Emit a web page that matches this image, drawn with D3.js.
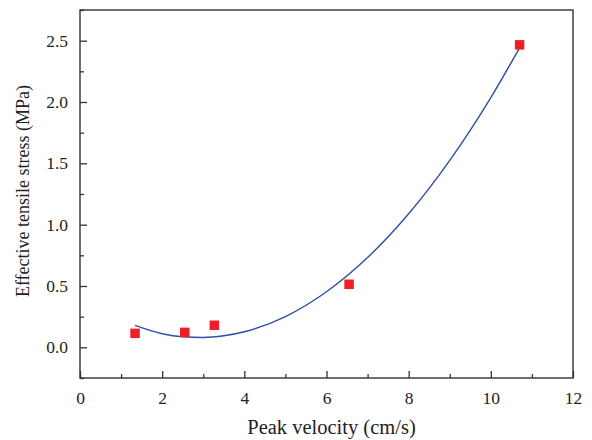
<!DOCTYPE html>
<html><head><meta charset="utf-8">
<script src="https://cdn.jsdelivr.net/npm/d3@7"></script>
<style>body{margin:0;background:#fff}svg{display:block}</style>
</head><body>
<svg id="c" width="592" height="440"></svg>
<script>
// measured data points
const velocity = [1.34, 2.55, 3.27, 6.55, 10.7];
const stress = [0.114, 0.122, 0.18, 0.514, 2.466];
// fitted curve
const fitX = [1.34, 2, 2.5, 3, 3.5, 4, 5, 6, 7, 8, 9, 10, 10.7];
const fitY = [0.179, 0.111, 0.086, 0.080, 0.094, 0.127, 0.251, 0.453, 0.732, 1.089, 1.524, 2.036, 2.441];
const xTicks = [0, 2, 4, 6, 8, 10, 12];
const xMinor = [1, 3, 5, 7, 9, 11];
const yTicks = [0.0, 0.5, 1.0, 1.5, 2.0, 2.5];
const yMinor = [-0.25, 0.25, 0.75, 1.25, 1.75, 2.25, 2.75];

const m = {l: 80, t: 10, r: 573, b: 378};
const svg = d3.select("#c");
const x = d3.scaleLinear().domain([0, 12]).range([m.l, m.r]);
const y = d3.scaleLinear().domain([-0.25, 2.75]).range([m.b, m.t]);
const font = "'Liberation Serif','Times New Roman',serif";
const axCol = "#333";

// frame
svg.append("rect").attr("x", m.l).attr("y", m.t).attr("width", m.r - m.l).attr("height", m.b - m.t)
  .attr("fill", "none").attr("stroke", axCol).attr("stroke-width", 1.4);

// x axis
const gx = svg.append("g").attr("transform", `translate(0,${m.b})`);
gx.call(d3.axisBottom(x).tickValues(xTicks).tickSize(-7).tickPadding(14).tickFormat(d3.format("d")));
gx.append("g").call(d3.axisBottom(x).tickValues(xMinor).tickSize(-4).tickFormat(""));
// y axis
const gy = svg.append("g").attr("transform", `translate(${m.l},0)`);
gy.call(d3.axisLeft(y).tickValues(yTicks).tickSize(-7).tickPadding(12).tickFormat(d3.format(".1f")));
gy.append("g").call(d3.axisLeft(y).tickValues(yMinor).tickSize(-4).tickFormat(""));
svg.selectAll(".domain").remove();
svg.selectAll(".tick line").attr("stroke", axCol).attr("stroke-width", 1.3);
svg.selectAll(".tick text").attr("font-family", font).attr("font-size", 17.5).attr("fill", "#222");

// axis titles
svg.append("text").attr("x", 331.5).attr("y", 434).attr("text-anchor", "middle")
  .attr("font-family", font).attr("font-size", 20.5).attr("fill", "#222").text("Peak velocity (cm/s)");
svg.append("text").attr("transform", "translate(29,191) rotate(-90)").attr("text-anchor", "middle")
  .attr("font-family", font).attr("font-size", 18).attr("fill", "#222").text("Effective tensile stress (MPa)");

// fit curve
const line = d3.line().x((d, i) => x(fitX[i])).y(d => y(d)).curve(d3.curveMonotoneX);
svg.append("path").attr("d", line(fitY)).attr("fill", "none").attr("stroke", "#2f4fa2").attr("stroke-width", 1.4);

// points
const s = 9.5;
svg.selectAll("rect.pt").data(stress).join("rect").attr("class", "pt")
  .attr("x", (d, i) => x(velocity[i]) - s / 2).attr("y", d => y(d) - s / 2)
  .attr("width", s).attr("height", s).attr("fill", "#ee1f26");
</script>
</body></html>
